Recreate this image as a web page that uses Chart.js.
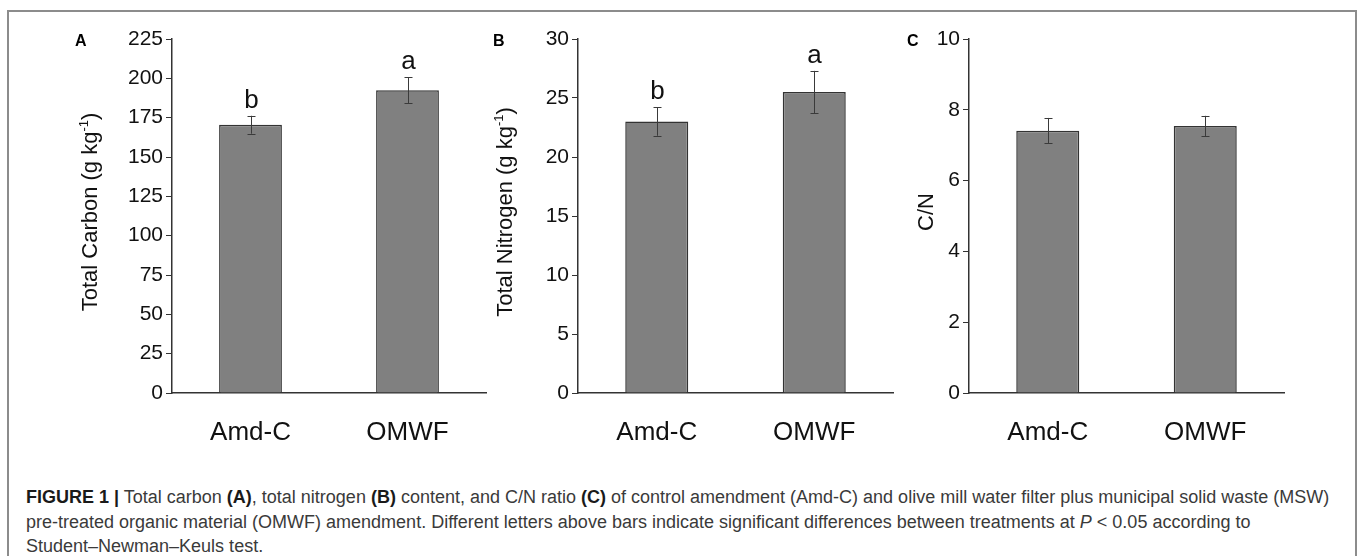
<!DOCTYPE html>
<html>
<head>
<meta charset="utf-8">
<script src="https://cdn.jsdelivr.net/npm/chart.js@4.4.1/dist/chart.umd.min.js"></script>
<style>
    body {
        margin: 0;
        width: 1357px;
        height: 556px;
        overflow: hidden;
        position: relative;
        background: #fff;
        font-family: "Liberation Sans", Arial, sans-serif;
    }
    #frame {
        position: absolute;
        left: 7px;
        top: 10px;
        width: 1346px;
        height: 620px;
        border: 2px solid #8c8c8c;
    }
    canvas.panel {
        position: absolute;
        top: 0;
    }
    .tag {
        position: absolute;
        top: 33px;
        font-weight: bold;
        font-size: 16px;
        line-height: 16px;
        color: #000;
    }
    #caption {
        position: absolute;
        left: 26px;
        top: 485px;
        font-size: 18px;
        line-height: 24.5px;
        color: #3a3a3a;
        white-space: nowrap;
    }
    #caption b {
        color: #1a1a1a;
    }
</style>
</head>
<body>
<div id="frame"></div>

<canvas id="chartA" class="panel" width="468" height="480" style="left:22px"></canvas>
<canvas id="chartB" class="panel" width="469" height="480" style="left:428px"></canvas>
<canvas id="chartC" class="panel" width="469" height="480" style="left:819px"></canvas>

<div class="tag" style="left:75px">A</div>
<div class="tag" style="left:493px">B</div>
<div class="tag" style="left:907px">C</div>

<div id="caption">
    <b>FIGURE 1 |</b> Total carbon <b>(A)</b>, total nitrogen <b>(B)</b> content, and C/N ratio <b>(C)</b> of control amendment (Amd-C) and olive mill water filter plus municipal solid waste (MSW)<br>
    pre-treated organic material (OMWF) amendment. Different letters above bars indicate significant differences between treatments at <i>P</i> &lt; 0.05 according to<br>
    Student–Newman–Keuls test.
</div>

<script>
const categories = ["Amd-C", "OMWF"];

const carbonMean = [170.5, 192.5];
const carbonErr = [5.7, 8.2];
const carbonLetters = ["b", "a"];
const carbonTicks = { max: 225, step: 25 };

const nitrogenMean = [23.0, 25.5];
const nitrogenErr = [1.2, 1.8];
const nitrogenLetters = ["b", "a"];
const nitrogenTicks = { max: 30, step: 5 };

const ratioMean = [7.41, 7.54];
const ratioErr = [0.36, 0.29];
const ratioLetters = [];
const ratioTicks = { max: 10, step: 2 };

const FONT = "'Liberation Sans', Arial, sans-serif";
const AXIS = "#333";

function extrasPlugin(errors, letters, title, titleGap) {
    return {
        id: "extras",
        afterDatasetsDraw(chart) {
            const ctx = chart.ctx;
            const meta = chart.getDatasetMeta(0);
            const yScale = chart.scales.y;
            const values = chart.data.datasets[0].data;
            ctx.save();
            ctx.strokeStyle = "#3a3a3a";
            ctx.lineWidth = 1;
            for (let i = 0; i < values.length; i++) {
                const x = Math.round(meta.data[i].x) + 0.5;
                const top = yScale.getPixelForValue(values[i] + errors[i]);
                const bottom = yScale.getPixelForValue(values[i] - errors[i]);
                ctx.beginPath();
                ctx.moveTo(x, top);
                ctx.lineTo(x, bottom);
                ctx.moveTo(x - 4, Math.round(top) + 0.5);
                ctx.lineTo(x + 4, Math.round(top) + 0.5);
                ctx.moveTo(x - 4, Math.round(bottom) + 0.5);
                ctx.lineTo(x + 4, Math.round(bottom) + 0.5);
                ctx.stroke();
                if (letters[i]) {
                    ctx.fillStyle = "#111";
                    ctx.font = "26px " + FONT;
                    ctx.textAlign = "center";
                    ctx.textBaseline = "alphabetic";
                    ctx.fillText(letters[i], x, top - 8);
                }
            }
            ctx.restore();
        },
        afterDraw(chart) {
            // y title drawn by hand so the -1 can be a real superscript
            const ctx = chart.ctx;
            const main = title.main;
            const sup = title.sup || "";
            const tail = title.tail || "";
            ctx.save();
            ctx.translate(chart.chartArea.left - titleGap, 212);
            ctx.rotate(-Math.PI / 2);
            ctx.fillStyle = "#111";
            ctx.textBaseline = "alphabetic";
            ctx.textAlign = "left";
            ctx.font = "22px " + FONT;
            const wMain = ctx.measureText(main).width;
            const wTail = ctx.measureText(tail).width;
            ctx.font = "13px " + FONT;
            const wSup = ctx.measureText(sup).width;
            let x = -(wMain + wSup + wTail) / 2;
            ctx.font = "22px " + FONT;
            ctx.fillText(main, x, 0);
            x += wMain;
            if (sup) {
                ctx.font = "13px " + FONT;
                ctx.fillText(sup, x, -9);
                x += wSup;
            }
            ctx.font = "22px " + FONT;
            ctx.fillText(tail, x, 0);
            ctx.restore();
        }
    };
}

function makePanel(id, values, errors, letters, ticks, title, titleGap) {
    return new Chart(document.getElementById(id), {
        type: "bar",
        data: {
            labels: categories,
            datasets: [{
                data: values,
                backgroundColor: "#808080",
                borderColor: "#333",
                borderWidth: 1.5,
                categoryPercentage: 0.8,
                barPercentage: 0.5
            }]
        },
        options: {
            responsive: false,
            animation: false,
            layout: { padding: { top: 39, right: 4, bottom: 0, left: 0 } },
            plugins: {
                legend: { display: false },
                tooltip: { enabled: false }
            },
            scales: {
                x: {
                    grid: { display: false, drawTicks: false },
                    border: { color: AXIS, width: 1.5 },
                    ticks: { padding: 24, color: "#111", font: { family: FONT, size: 26 } },
                    afterFit: (s) => { s.height = 87; }
                },
                y: {
                    min: 0,
                    max: ticks.max,
                    ticks: { stepSize: ticks.step, padding: 3, color: "#111", font: { family: FONT, size: 21 } },
                    grid: { drawOnChartArea: false, tickLength: 6, color: AXIS, lineWidth: 1 },
                    border: { color: AXIS, width: 1.5 },
                    afterFit: (s) => { s.width = 150; }
                }
            }
        },
        plugins: [extrasPlugin(errors, letters, title, titleGap)]
    });
}

makePanel("chartA", carbonMean, carbonErr, carbonLetters, carbonTicks,
    { main: "Total Carbon (g kg", sup: "-1", tail: ")" }, 75);
makePanel("chartB", nitrogenMean, nitrogenErr, nitrogenLetters, nitrogenTicks,
    { main: "Total Nitrogen (g kg", sup: "-1", tail: ")" }, 66);
makePanel("chartC", ratioMean, ratioErr, ratioLetters, ratioTicks,
    { main: "C/N" }, 36);
</script>
</body>
</html>
